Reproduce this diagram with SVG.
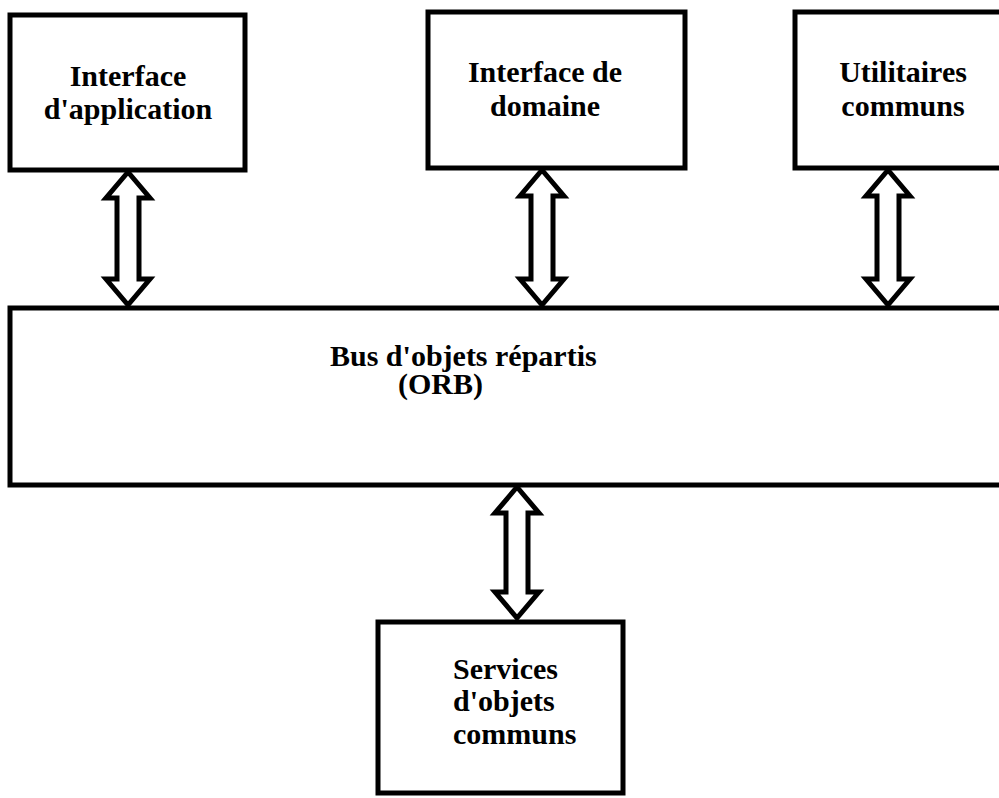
<svg xmlns="http://www.w3.org/2000/svg" width="999" height="798" viewBox="0 0 999 798">
  <style>
    .box { fill: #ffffff; stroke: #000000; stroke-width: 5; }
    .arrow { fill: #ffffff; stroke: #000000; stroke-width: 5; stroke-linejoin: miter; stroke-miterlimit: 10; }
    .label { font-family: "Liberation Serif", "Times New Roman", serif; font-weight: bold; font-size: 30px; fill: #000000; }
    .mid { text-anchor: middle; }
  </style>
  <rect width="999" height="798" fill="#ffffff"/>

  <!-- top row of components -->
  <g id="interface-application">
    <rect class="box" x="10" y="15" width="235" height="155"/>
    <text class="label mid" x="128" y="86">Interface</text>
    <text class="label mid" x="128" y="119">d'application</text>
  </g>

  <g id="interface-domaine">
    <rect class="box" x="428" y="12" width="257" height="156"/>
    <text class="label mid" x="545" y="82">Interface de</text>
    <text class="label mid" x="545" y="116">domaine</text>
  </g>

  <g id="utilitaires-communs">
    <rect class="box" x="795" y="12" width="220" height="156"/>
    <text class="label mid" x="903" y="82">Utilitaires</text>
    <text class="label mid" x="903" y="116">communs</text>
  </g>

  <!-- object request broker -->
  <g id="orb">
    <rect class="box" x="10" y="308" width="1010" height="177"/>
    <text class="label" x="330" y="366">Bus d'objets répartis</text>
    <text class="label" x="398" y="394">(ORB)</text>
  </g>

  <!-- common object services -->
  <g id="services-objets-communs">
    <rect class="box" x="378" y="622" width="245" height="171"/>
    <text class="label" x="453" y="679">Services</text>
    <text class="label" x="453" y="711">d'objets</text>
    <text class="label" x="453" y="744">communs</text>
  </g>

  <!-- double-headed hollow arrows -->
  <g id="connectors">
    <path class="arrow" d="M128,172 L150,198 L139,198 L139,279 L150,279 L128,305 L106,279 L117,279 L117,198 L106,198 Z"/>
    <path class="arrow" d="M542,170 L564,196 L553,196 L553,279 L564,279 L542,305 L520,279 L531,279 L531,196 L520,196 Z"/>
    <path class="arrow" d="M888,170 L910,196 L899,196 L899,279 L910,279 L888,305 L866,279 L877,279 L877,196 L866,196 Z"/>
    <path class="arrow" d="M517,487 L539,513 L528,513 L528,592 L539,592 L517,618 L495,592 L506,592 L506,513 L495,513 Z"/>
  </g>
</svg>
